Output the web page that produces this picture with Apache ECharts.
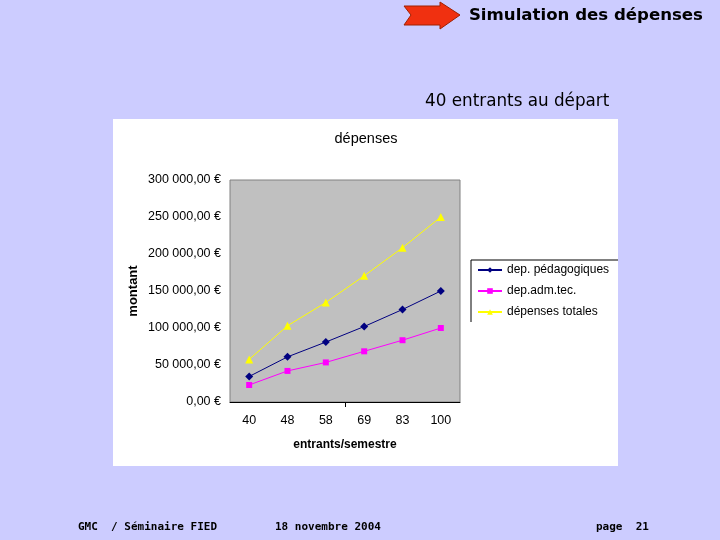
<!DOCTYPE html>
<html>
<head>
<meta charset="utf-8">
<script src="https://cdn.jsdelivr.net/npm/echarts@6/dist/echarts.min.js"></script>
<style>
  html, body { margin: 0; padding: 0; background: #CCCCFF; }
  #main { width: 720px; height: 540px; }
</style>
</head>
<body>
<div id="main"></div>
<script>
var entrants = ['40', '48', '58', '69', '83', '100'];
var depPedago = [34500, 61000, 81000, 102000, 125000, 150000];
var depAdmTec = [23000, 42000, 53500, 68500, 83500, 100000];
var depTotales = [57500, 103000, 134500, 170500, 208500, 250000];
var yTicks = [0, 50000, 100000, 150000, 200000, 250000, 300000];

function euro(v) {
    var s = String(Math.round(v)).replace(/\B(?=(\d{3})+(?!\d))/g, ' ');
    return s + ',00 €';
}

var font = '"Liberation Sans", Arial, sans-serif';
var chart = echarts.init(document.getElementById('main'));

option = {
    backgroundColor: '#CCCCFF',
    animation: false,
    graphic: [
        { type: 'rect', z: -10, shape: { x: 113, y: 119, width: 505, height: 347 }, style: { fill: '#FFFFFF' } },
        { type: 'polygon', shape: { points: [[404, 6], [440, 6], [440, 2], [460, 15], [440, 29], [440, 25], [404, 25], [411, 15]] },
          style: { fill: '#F03010', stroke: '#A02000', lineWidth: 1 } },
        { type: 'text', style: { x: 703, y: 16, text: 'Simulation des dépenses', align: 'right', verticalAlign: 'middle', fill: '#000', font: 'bold 16.6px "DejaVu Sans", sans-serif' } },
        { type: 'text', style: { x: 425, y: 102, text: '40 entrants au départ', verticalAlign: 'middle', fill: '#000', font: '16.8px "DejaVu Sans", sans-serif' } },
        { type: 'text', style: { x: 366, y: 139, text: 'dépenses', align: 'center', verticalAlign: 'middle', fill: '#000', font: '14.5px ' + font } },
        { type: 'polyline', shape: { points: [[471, 322], [471, 260], [618, 260]] }, style: { stroke: '#000', lineWidth: 1, fill: null } },
        { type: 'line', shape: { x1: 345.5, y1: 402, x2: 345.5, y2: 407 }, style: { stroke: '#000', lineWidth: 1 } },
        { type: 'text', style: { x: 78, y: 527, text: 'GMC  / Séminaire FIED', verticalAlign: 'middle', fill: '#000', font: 'bold 11px "DejaVu Sans Mono", monospace' } },
        { type: 'text', style: { x: 275, y: 527, text: '18 novembre 2004', verticalAlign: 'middle', fill: '#000', font: 'bold 11px "DejaVu Sans Mono", monospace' } },
        { type: 'text', style: { x: 596, y: 527, text: 'page  21', verticalAlign: 'middle', fill: '#000', font: 'bold 11px "DejaVu Sans Mono", monospace' } }
    ],
    grid: {
        left: 230, top: 180, width: 230, height: 222,
        show: true, backgroundColor: '#C0C0C0', borderColor: '#808080', borderWidth: 1
    },
    legend: {
        orient: 'vertical',
        left: 477, top: 264, padding: 0,
        itemWidth: 24, itemHeight: 7, itemGap: 9,
        textStyle: { fontFamily: font, fontSize: 12, color: '#000' },
        data: ['dep. pédagogiques', 'dep.adm.tec.', 'dépenses totales']
    },
    xAxis: {
        type: 'category',
        data: entrants,
        boundaryGap: true,
        name: 'entrants/semestre',
        nameLocation: 'middle',
        nameGap: 37,
        nameTextStyle: { fontFamily: font, fontSize: 12, fontWeight: 'bold', color: '#000' },
        axisLine: { lineStyle: { color: '#000' } },
        axisTick: { show: false },
        axisLabel: { fontFamily: font, fontSize: 12.5, color: '#000', margin: 12 }
    },
    yAxis: {
        type: 'value',
        min: yTicks[0], max: yTicks[yTicks.length - 1], interval: 50000,
        name: 'montant',
        nameLocation: 'middle',
        nameGap: 90,
        nameTextStyle: { fontFamily: font, fontSize: 13, fontWeight: 'bold', color: '#000' },
        axisLine: { show: false },
        axisTick: { show: false },
        splitLine: { show: false },
        axisLabel: { fontFamily: font, fontSize: 12.5, color: '#000', margin: 9, formatter: euro }
    },
    series: [
        { name: 'dep. pédagogiques', type: 'line', data: depPedago, symbol: 'diamond', symbolSize: 8,
          itemStyle: { color: '#000080' }, lineStyle: { color: '#000080', width: 1 } },
        { name: 'dep.adm.tec.', type: 'line', data: depAdmTec, symbol: 'rect', symbolSize: 6,
          itemStyle: { color: '#FF00FF' }, lineStyle: { color: '#FF00FF', width: 1 } },
        { name: 'dépenses totales', type: 'line', data: depTotales, symbol: 'triangle', symbolSize: 8,
          itemStyle: { color: '#FFFF00' }, lineStyle: { color: '#FFFF00', width: 1 } }
    ]
};

chart.setOption(option);
</script>
</body>
</html>
